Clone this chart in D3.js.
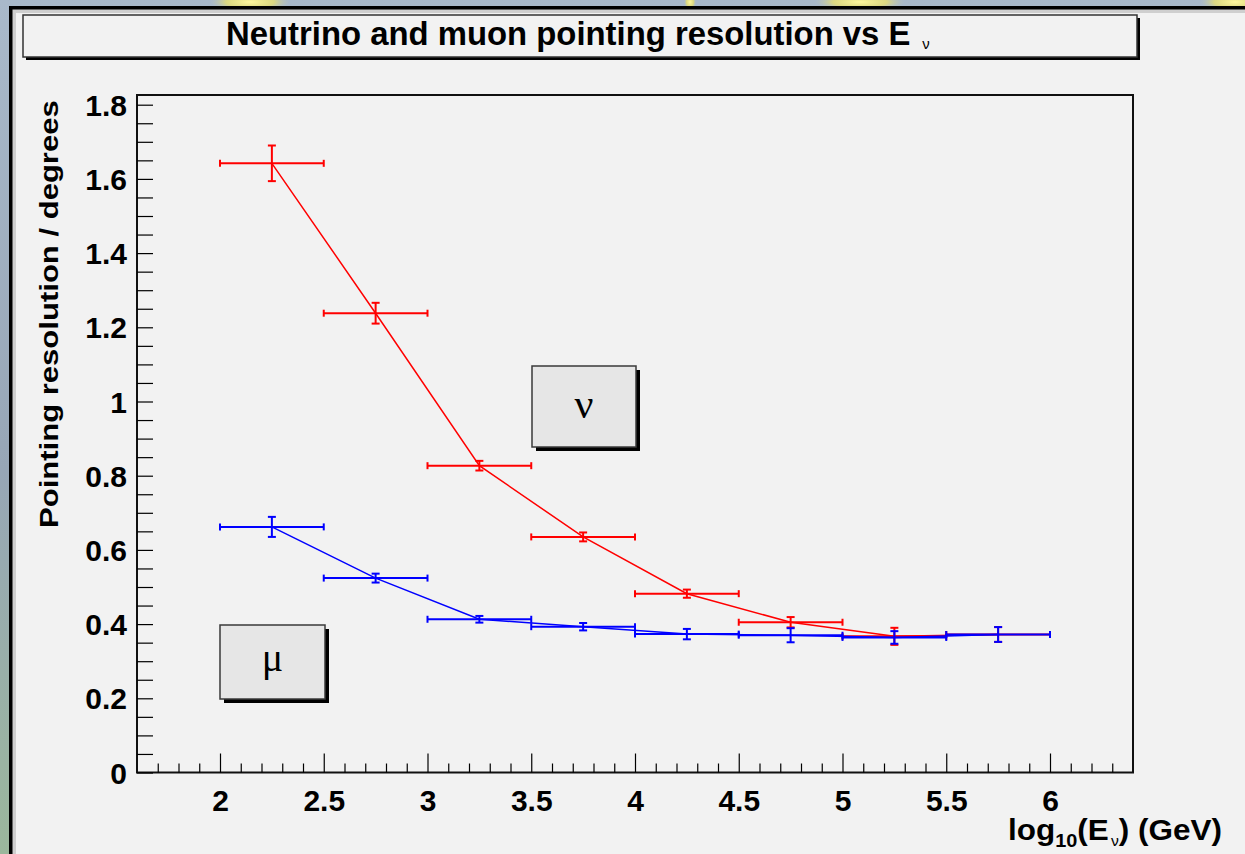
<!DOCTYPE html>
<html><head><meta charset="utf-8">
<script src="https://cdn.jsdelivr.net/npm/d3@7"></script>
<style>body{margin:0;background:#fff;overflow:hidden} svg{display:block}</style>
</head><body>
<svg id="c" width="1245" height="854"></svg>
<script>
// ---- data ----
const energyBins   = [2.25, 2.75, 3.25, 3.75, 4.25, 4.75, 5.25, 5.75];
const binHalfWidth = [0.25, 0.25, 0.25, 0.25, 0.25, 0.25, 0.25, 0.25];
const neutrinoRes  = [1.642, 1.238, 0.827, 0.635, 0.482, 0.405, 0.367, 0.372];
const neutrinoErr  = [0.048, 0.028, 0.013, 0.012, 0.011, 0.014, 0.023, 0.020];
const muonRes      = [0.662, 0.524, 0.413, 0.393, 0.373, 0.370, 0.364, 0.372];
const muonErr      = [0.027, 0.012, 0.009, 0.010, 0.014, 0.019, 0.017, 0.020];
const xTicks       = [2, 2.5, 3, 3.5, 4, 4.5, 5, 5.5, 6];
const xTickLabels  = ["2", "2.5", "3", "3.5", "4", "4.5", "5", "5.5", "6"];
const yTicks       = [0, 0.2, 0.4, 0.6, 0.8, 1.0, 1.2, 1.4, 1.6, 1.8];
const yTickLabels  = ["0", "0.2", "0.4", "0.6", "0.8", "1", "1.2", "1.4", "1.6", "1.8"];
const titleText    = "Neutrino and muon pointing resolution vs E";
const yTitleText   = "Pointing resolution / degrees";

// ---- setup ----
const W = 1245, H = 854;
const svg = d3.select('#c');
const SANS = '"Liberation Sans", Arial, Helvetica, sans-serif';
const SERIF = '"Liberation Serif", "Times New Roman", serif';

const defs = svg.append('defs');
const bg = defs.append('linearGradient').attr('id','bgG').attr('x1',0).attr('y1',0).attr('x2',0).attr('y2',1);
bg.append('stop').attr('offset','0%').attr('stop-color','#a9b9ca');
bg.append('stop').attr('offset','55%').attr('stop-color','#97a6b6');
bg.append('stop').attr('offset','100%').attr('stop-color','#9bb79c');
const yl = defs.append('radialGradient').attr('id','yl');
yl.append('stop').attr('offset','0%').attr('stop-color','#fff8a0');
yl.append('stop').attr('offset','60%').attr('stop-color','#e8e070').attr('stop-opacity',0.8);
yl.append('stop').attr('offset','100%').attr('stop-color','#c0c8b0').attr('stop-opacity',0);

svg.append('rect').attr('width',W).attr('height',H).attr('fill','url(#bgG)');
[[250,2,40,10],[860,2,45,9],[1235,2,35,10],[690,2,6,8]].forEach(b=>{
  svg.append('ellipse').attr('cx',b[0]).attr('cy',b[1]).attr('rx',b[2]).attr('ry',b[3]).attr('fill','url(#yl)');
});

// canvas
svg.append('rect').attr('x',9).attr('y',6).attr('width',W).attr('height',H).attr('fill','#000');
svg.append('rect').attr('x',12.5).attr('y',9.5).attr('width',W).attr('height',H).attr('fill','#cfcfcf');
svg.append('rect').attr('x',16).attr('y',13).attr('width',W).attr('height',H).attr('fill','#f2f2f2');

// helper: horizontally fit a text element into [x0,x1]
function fitX(sel, x0, x1){
  const bb = sel.node().getBBox();
  const s = (x1 - x0) / bb.width;
  sel.attr('transform', `translate(${x0 - bb.x*s},0) scale(${s},1)`);
}

// title box
svg.append('rect').attr('x',26).attr('y',18).attr('width',1114).attr('height',42).attr('fill','#000');
svg.append('rect').attr('x',23).attr('y',15).attr('width',1114).attr('height',42)
  .attr('fill','#f2f2f2').attr('stroke','#333').attr('stroke-width',1.5);
const title = svg.append('text').attr('x',0).attr('y',45)
  .attr('font-family',SANS).attr('font-weight','bold').attr('font-size',33).attr('fill','#000');
title.append('tspan').text(titleText);
title.append('tspan').attr('dx',12).attr('dy',4).attr('font-size',15).attr('font-weight','normal').text('ν');
fitX(title, 226, 930);

// scales
const x = d3.scaleLinear().domain([1.6, 6.4]).range([137, 1133]);
const y = d3.scaleLinear().domain([0, 1.8]).range([772.5, 104.7]);
const yTop = y.invert(95);

// frame
svg.append('rect').attr('x',x(1.6)).attr('y',y(yTop)).attr('width',x(6.4)-x(1.6)).attr('height',y(0)-y(yTop))
  .attr('fill','none').attr('stroke','#111').attr('stroke-width',2);

// axes
const xMinor = d3.range(1.7, 6.35, 0.1).filter(v => Math.abs(v*2 - Math.round(v*2)) > 1e-6);
const yMinor = d3.range(0.05, 1.8, 0.05).filter(v => Math.abs(v*5 - Math.round(v*5)) > 1e-6);

const gx = svg.append('g').attr('transform',`translate(0,${y(0)})`).attr('color','#000');
gx.append('g').call(d3.axisBottom(x).tickValues(xMinor).tickSize(-9).tickFormat(''))
  .call(g=>g.select('.domain').remove());
gx.append('g').call(d3.axisBottom(x).tickValues(xTicks).tickSize(-19).tickFormat((d,i)=>xTickLabels[i]))
  .call(g=>g.select('.domain').remove())
  .call(g=>g.selectAll('text').attr('y',38).attr('dy',null)
      .attr('font-family',SANS).attr('font-weight','bold').attr('font-size',30).attr('fill','#000'));

const gy = svg.append('g').attr('transform',`translate(${x(1.6)},0)`).attr('color','#000');
gy.append('g').call(d3.axisLeft(y).tickValues(yMinor).tickSize(-16).tickFormat(''))
  .call(g=>g.select('.domain').remove());
gy.append('g').call(d3.axisLeft(y).tickValues(yTicks).tickSize(-16).tickFormat((d,i)=>yTickLabels[i]))
  .call(g=>g.select('.domain').remove())
  .call(g=>g.selectAll('text').attr('x',-10).attr('y',10.5).attr('dy',null)
      .attr('font-family',SANS).attr('font-weight','bold').attr('font-size',30).attr('fill','#000'));
svg.selectAll('.tick line').attr('stroke-width',1.2);

// y title
const yt = svg.append('g').attr('transform','translate(58,528) rotate(-90)');
const ytt = yt.append('text').attr('x',0).attr('y',0)
  .attr('font-family',SANS).attr('font-weight','bold').attr('font-size',26).attr('fill','#000').text(yTitleText);
{ const bb = ytt.node().getBBox(); const s = 428/bb.width; ytt.attr('transform',`scale(${s},1)`); }

// x title
const xt = svg.append('text').attr('x',0).attr('y',840)
  .attr('font-family',SANS).attr('font-weight','bold').attr('font-size',30).attr('fill','#000');
xt.append('tspan').text('log');
xt.append('tspan').attr('font-size',19).attr('dy',7).text('10');
xt.append('tspan').attr('dy',-7).text('(E');
xt.append('tspan').attr('font-size',15).attr('font-weight','normal').attr('dy',6).attr('dx',2).text('ν');
xt.append('tspan').attr('dy',-6).text(')');
xt.append('tspan').text(' (GeV)');
fitX(xt, 1008, 1222);

// label boxes
function labelBox(x0, y0, w, h, sym, fs, by){
  svg.append('rect').attr('x',x0+4).attr('y',y0+4).attr('width',w).attr('height',h).attr('fill','#000');
  svg.append('rect').attr('x',x0).attr('y',y0).attr('width',w).attr('height',h)
    .attr('fill','#e6e6e6').attr('stroke','#3a3a3a').attr('stroke-width',1.5);
  svg.append('text').attr('x',x0+w/2).attr('y',by).attr('text-anchor','middle')
    .attr('font-family',SERIF).attr('font-size',fs).attr('fill','#000').text(sym);
}
labelBox(532, 366, 104, 81, 'ν', 42, 418);
labelBox(220, 625, 105, 74, 'μ', 40, 671);

// series
function drawSeries(vals, errs, color){
  const g = svg.append('g').attr('stroke',color).attr('fill','none');
  const line = d3.line().x((d,i)=>x(energyBins[i])).y(d=>y(d));
  g.append('path').attr('d', line(vals)).attr('stroke-width',1.5);
  vals.forEach((v,i)=>{
    const cx = x(energyBins[i]), cy = y(v);
    const xl = x(energyBins[i]-binHalfWidth[i]), xr = x(energyBins[i]+binHalfWidth[i]);
    const yt = y(v+errs[i]), yb = y(v-errs[i]);
    g.append('line').attr('x1',xl).attr('x2',xr).attr('y1',cy).attr('y2',cy).attr('stroke-width',2);
    g.append('line').attr('x1',xl).attr('x2',xl).attr('y1',cy-3.5).attr('y2',cy+3.5).attr('stroke-width',2);
    g.append('line').attr('x1',xr).attr('x2',xr).attr('y1',cy-3.5).attr('y2',cy+3.5).attr('stroke-width',2);
    g.append('line').attr('x1',cx).attr('x2',cx).attr('y1',yt).attr('y2',yb).attr('stroke-width',2);
    g.append('line').attr('x1',cx-4).attr('x2',cx+4).attr('y1',yt).attr('y2',yt).attr('stroke-width',2);
    g.append('line').attr('x1',cx-4).attr('x2',cx+4).attr('y1',yb).attr('y2',yb).attr('stroke-width',2);
  });
}
drawSeries(neutrinoRes, neutrinoErr, '#ff0000');
drawSeries(muonRes, muonErr, '#0000ff');
</script>
</body></html>
